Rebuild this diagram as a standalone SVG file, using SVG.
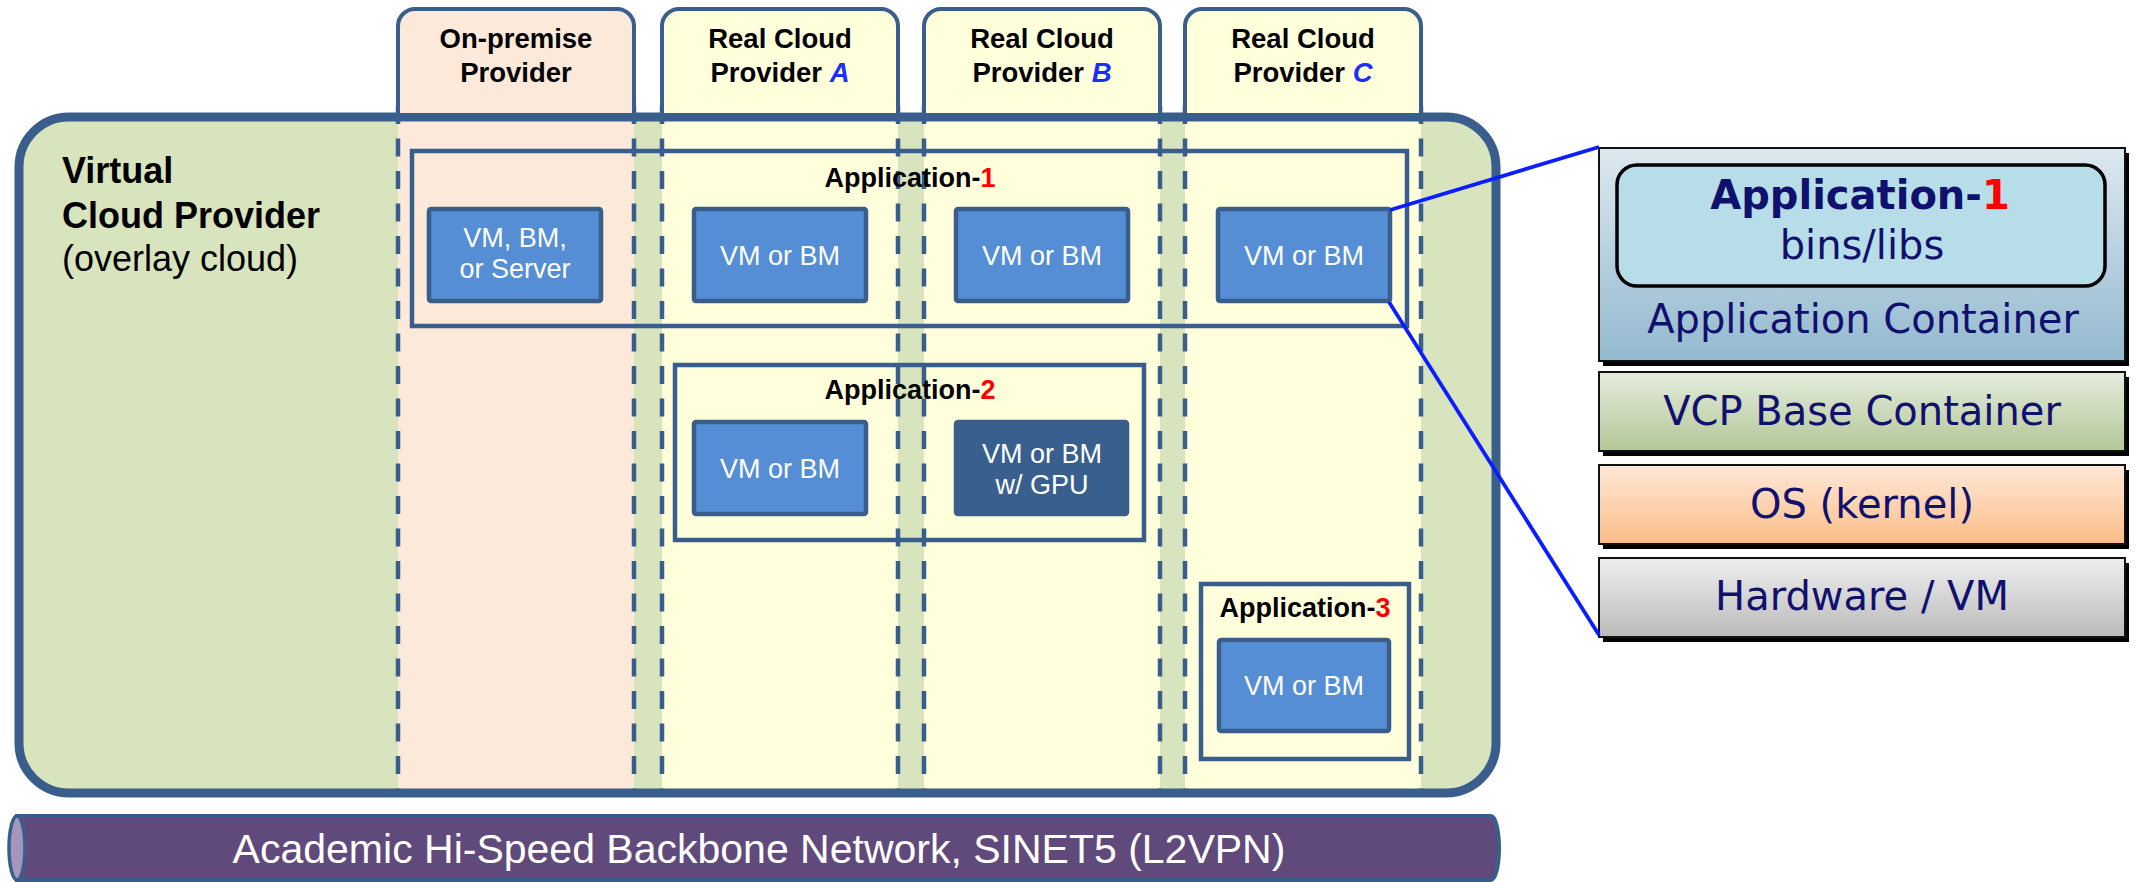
<svg xmlns="http://www.w3.org/2000/svg" width="2139" height="882" viewBox="0 0 2139 882">
<defs>
<linearGradient id="gApp" x1="0" y1="0" x2="0" y2="1"><stop offset="0" stop-color="#DDE8EF"/><stop offset="1" stop-color="#93B9CF"/></linearGradient>
<linearGradient id="gBase" x1="0" y1="0" x2="0" y2="1"><stop offset="0" stop-color="#E4ECDC"/><stop offset="1" stop-color="#B3C797"/></linearGradient>
<linearGradient id="gOS" x1="0" y1="0" x2="0" y2="1"><stop offset="0" stop-color="#FFE8D8"/><stop offset="1" stop-color="#FBBD88"/></linearGradient>
<linearGradient id="gHW" x1="0" y1="0" x2="0" y2="1"><stop offset="0" stop-color="#EEEEEE"/><stop offset="1" stop-color="#BBBBBB"/></linearGradient>
<style>
.lbl{font-family:"Liberation Sans",Arial,sans-serif;font-weight:bold;font-size:27px;fill:#000;text-anchor:middle}
.tab{font-family:"Liberation Sans",Arial,sans-serif;font-weight:bold;font-size:27.5px;fill:#000;text-anchor:middle}
.vmt{font-family:"Liberation Sans",Arial,sans-serif;font-size:27px;fill:#fff;text-anchor:middle}
.vm{fill:#558ED5;stroke:#3A5E8B;stroke-width:4.5}
.vmg{fill:#395F8E;stroke:#3A5E8B;stroke-width:4.5}
.app{fill:none;stroke:#3A5E8B;stroke-width:4.5}
.dash{stroke:#3A5E8B;stroke-width:4.5;stroke-dasharray:18 14.5;fill:none}
.tabs{stroke:#3A5E8B;stroke-width:4}
.red{fill:#FF0000}
.blu{fill:#1A2EFF;font-style:italic}
.stk{font-family:"DejaVu Sans",Verdana,sans-serif;font-size:40px;fill:#10106E;text-anchor:middle}
.lay{stroke:#111;stroke-width:2}
.conn{stroke:#0A1EFF;stroke-width:3.8;fill:none}
</style>
</defs>

<g id="vcp">
<rect x="19" y="117" width="1477" height="676" rx="50" fill="#D8E4BD"/>
<rect x="398" y="113" width="236" height="680" fill="#FDE9DA"/>
<rect x="662" y="113" width="236" height="680" fill="#FFFFDC"/>
<rect x="924" y="113" width="236" height="680" fill="#FFFFDC"/>
<rect x="1185" y="113" width="236" height="680" fill="#FFFFDC"/>
<g class="dash">
<line x1="398" y1="106" x2="398" y2="791"/><line x1="634" y1="106" x2="634" y2="791"/>
<line x1="662" y1="106" x2="662" y2="791"/><line x1="898" y1="106" x2="898" y2="791"/>
<line x1="924" y1="106" x2="924" y2="791"/><line x1="1160" y1="106" x2="1160" y2="791"/>
<line x1="1185" y1="106" x2="1185" y2="791"/><line x1="1421" y1="106" x2="1421" y2="791"/>
</g>
<rect x="19" y="117" width="1477" height="676" rx="50" fill="none" stroke="#3A5E8B" stroke-width="9"/>
<text x="62" y="183" font-family="Liberation Sans, Arial, sans-serif" font-weight="bold" font-size="36">Virtual</text>
<text x="62" y="228" font-family="Liberation Sans, Arial, sans-serif" font-weight="bold" font-size="36">Cloud Provider</text>
<text x="62" y="271" font-family="Liberation Sans, Arial, sans-serif" font-size="36">(overlay cloud)</text>
</g>

<g id="tab-onpremise">
<path class="tabs" fill="#FDE9DA" d="M398,113 V26 A17,17 0 0 1 415,9 H617 A17,17 0 0 1 634,26 V113"/>
<text class="tab" x="516" y="48">On-premise</text>
<text class="tab" x="516" y="82">Provider</text>
</g>
<g id="tab-a">
<path class="tabs" fill="#FFFFDC" d="M662,113 V26 A17,17 0 0 1 679,9 H881 A17,17 0 0 1 898,26 V113"/>
<text class="tab" x="780" y="48">Real Cloud</text>
<text class="tab" x="780" y="82">Provider <tspan class="blu">A</tspan></text>
</g>
<g id="tab-b">
<path class="tabs" fill="#FFFFDC" d="M924,113 V26 A17,17 0 0 1 941,9 H1143 A17,17 0 0 1 1160,26 V113"/>
<text class="tab" x="1042" y="48">Real Cloud</text>
<text class="tab" x="1042" y="82">Provider <tspan class="blu">B</tspan></text>
</g>
<g id="tab-c">
<path class="tabs" fill="#FFFFDC" d="M1185,113 V26 A17,17 0 0 1 1202,9 H1404 A17,17 0 0 1 1421,26 V113"/>
<text class="tab" x="1303" y="48">Real Cloud</text>
<text class="tab" x="1303" y="82">Provider <tspan class="blu">C</tspan></text>
</g>

<g id="app1">
<rect class="app" x="412" y="151" width="995" height="175"/>
<text class="lbl" x="910" y="187">Application-<tspan class="red">1</tspan></text>
</g>
<g id="vm-onprem">
<rect class="vm" x="429" y="209" width="172" height="92" rx="2"/>
<text class="vmt" x="515" y="247">VM, BM,</text>
<text class="vmt" x="515" y="278">or Server</text>
</g>
<g id="vm-a1">
<rect class="vm" x="694" y="209" width="172" height="92" rx="2"/>
<text class="vmt" x="780" y="265">VM or BM</text>
</g>
<g id="vm-b1">
<rect class="vm" x="956" y="209" width="172" height="92" rx="2"/>
<text class="vmt" x="1042" y="265">VM or BM</text>
</g>
<g id="vm-c1">
<rect class="vm" x="1218" y="209" width="172" height="92" rx="2"/>
<text class="vmt" x="1304" y="265">VM or BM</text>
</g>

<g id="app2">
<rect class="app" x="675" y="365" width="469" height="175"/>
<text class="lbl" x="910" y="399">Application-<tspan class="red">2</tspan></text>
</g>
<g id="vm-a2">
<rect class="vm" x="694" y="422" width="172" height="92" rx="2"/>
<text class="vmt" x="780" y="478">VM or BM</text>
</g>
<g id="vm-gpu">
<rect class="vmg" x="956" y="422" width="171" height="92" rx="2"/>
<text class="vmt" x="1042" y="463">VM or BM</text>
<text class="vmt" x="1042" y="494">w/ GPU</text>
</g>

<g id="app3">
<rect class="app" x="1201" y="584" width="208" height="175"/>
<text class="lbl" x="1305" y="617">Application-<tspan class="red">3</tspan></text>
</g>
<g id="vm-c3">
<rect class="vm" x="1219" y="640" width="170" height="91" rx="2"/>
<text class="vmt" x="1304" y="695">VM or BM</text>
</g>

<g id="backbone">
<path d="M17,816 H1491 A8,32 0 0 1 1491,880 H17 Z" fill="#604A7B" stroke="#3A5E8B" stroke-width="4"/>
<ellipse cx="17" cy="848" rx="8" ry="32" fill="#A596BF" stroke="#3A5E8B" stroke-width="3.5"/>
<text x="759" y="863" font-family="Liberation Sans, Arial, sans-serif" font-size="41" fill="#fff" text-anchor="middle">Academic Hi-Speed Backbone Network, SINET5 (L2VPN)</text>
</g>

<g id="stack">
<g id="layer-app">
<rect x="1603" y="153" width="526" height="213" fill="#000"/>
<rect class="lay" x="1599" y="148" width="526" height="213" fill="url(#gApp)"/>
<rect x="1617" y="165" width="488" height="121" rx="20" fill="#B7DEE8" stroke="#000" stroke-width="3.5"/>
<text class="stk" x="1860" y="209" font-weight="bold" font-size="34">Application-<tspan class="red">1</tspan></text>
<text class="stk" x="1862" y="259">bins/libs</text>
<text class="stk" x="1863" y="333">Application Container</text>
</g>
<g id="layer-base">
<rect x="1603" y="377" width="526" height="79" fill="#000"/>
<rect class="lay" x="1599" y="372" width="526" height="79" fill="url(#gBase)"/>
<text class="stk" x="1862" y="425">VCP Base Container</text>
</g>
<g id="layer-os">
<rect x="1603" y="470" width="526" height="79" fill="#000"/>
<rect class="lay" x="1599" y="465" width="526" height="79" fill="url(#gOS)"/>
<text class="stk" x="1862" y="518">OS (kernel)</text>
</g>
<g id="layer-hw">
<rect x="1603" y="563" width="526" height="79" fill="#000"/>
<rect class="lay" x="1599" y="558" width="526" height="79" fill="url(#gHW)"/>
<text class="stk" x="1862" y="610">Hardware / VM</text>
</g>
</g>

<g id="connectors">
<line class="conn" x1="1390" y1="210" x2="1599" y2="147"/>
<line class="conn" x1="1389" y1="302" x2="1599" y2="635"/>
</g>
</svg>
